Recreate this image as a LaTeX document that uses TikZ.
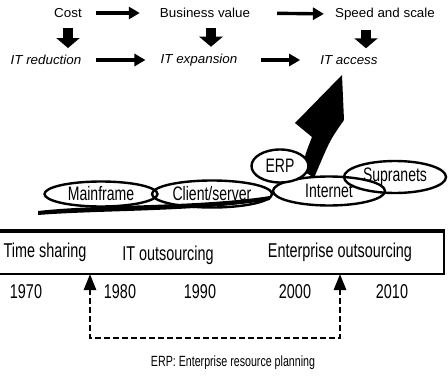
\documentclass[tikz,border=0pt]{standalone}
\usepackage{fontspec}
\setmainfont{Liberation Sans}
\newfontfamily\topfont[FakeStretch=1.03]{Liberation Sans}
\newfontfamily\condfont[FakeStretch=0.72]{Liberation Sans}
\usetikzlibrary{arrows.meta,shapes.geometric}
\begin{document}
\begin{tikzpicture}[x=1pt,y=-1pt,
  toptxt/.style={font=\topfont\fontsize{13}{15}\selectfont, inner sep=1pt},
  ittxt/.style={font=\topfont\itshape\fontsize{13}{15}\selectfont, inner sep=1pt},
  thinarr/.style={line width=3.4pt, -{Triangle[length=11pt,width=12pt]}},
  blkarr/.style={line width=10pt, -{Triangle[length=10pt,width=23pt]}},
  ell/.style={ellipse, draw, line width=2.4pt, inner sep=0pt, font=\condfont\fontsize{19.5}{21}\selectfont},
  bigtxt/.style={font=\condfont\fontsize{20}{22}\selectfont, inner sep=1pt},
  yeartxt/.style={font=\condfont\fontsize{20}{22}\selectfont, inner sep=1pt},
  notetxt/.style={font=\condfont\fontsize{14.8}{16}\selectfont, inner sep=1pt},
  dasharr/.style={line width=2.6pt, dash pattern=on 6pt off 3pt,
    {Triangle[length=16pt,width=12pt]}-{Triangle[length=16pt,width=12pt]}},
]
\useasboundingbox (0,0) rectangle (448,380);
\clip (0,0) rectangle (448,380);
\fill[white] (0,0) rectangle (448,380);

% top rows
\node[toptxt] (cost) at (68,13) {Cost};
\node[toptxt] (bv) at (205,13) {Business value};
\node[toptxt] (ss) at (385,14) {Speed and scale};
\node[ittxt] (itr) at (46,60) {IT reduction};
\node[ittxt] (ite) at (199,60) {IT expansion};
\node[ittxt] (ita) at (349,60) {IT access};

\draw[thinarr, shorten <=13pt, shorten >=19pt] (cost.east) -- (bv.west);
\draw[thinarr, shorten <=26pt, shorten >=10pt] (bv.east) -- (ss.west);
\draw[thinarr, shorten <=13pt, shorten >=14pt] (itr.east) -- (ite.west);
\draw[thinarr, shorten <=22pt, shorten >=19pt] (ite.east) -- (ita.west);

\draw[blkarr, shorten <=9pt, shorten >=6pt] (cost.south) -- (cost.south |- itr.north);
\draw[blkarr, shorten <=9pt, shorten >=6pt] ([xshift=6pt]bv.south) -- ([xshift=6pt]bv.south |- ite.north);
\draw[blkarr, shorten <=9pt, shorten >=6pt] ([xshift=-19pt]ss.south) -- ([xshift=-19pt]ss.south |- ita.north);

% big arrow
\fill (302,170) .. controls (305,155) .. (312,137) -- (295,123) -- (342,75) -- (344,120) .. controls (330,140) .. (314,178) -- cycle;

% swoosh
\fill (38,211) .. controls (100,204) and (200,207) .. (270,196) -- (270,200) .. controls (200,212) and (100,210) .. (38,215) -- cycle;

% ellipses
\node[ell, minimum width=113pt, minimum height=25pt] (mf) at (101,194) {Mainframe};
\node[ell, minimum width=120pt, minimum height=27pt] (cs) at (212,194) {Client/server};
\node[ell, minimum width=112pt, minimum height=29pt] (inet) at (329,191) {\raisebox{-4pt}{Internet}};
\node[ell, minimum width=102pt, minimum height=32pt] (sup) at (395,177) {Supranets};
\node[ell, fill=white, minimum width=57pt, minimum height=33pt] (erp) at (280,166) {ERP};

% timeline box
\node[draw, line width=2.4pt, minimum width=452pt, minimum height=42pt, anchor=north east] (tl) at (445,231) {};
\draw[line width=3.4pt] (tl.north west) -- (tl.north east);
\node[bigtxt] (ts) at (45,252) {Time sharing};
\node[bigtxt] (ito) at (168,255) {IT outsourcing};
\node[bigtxt] (eo) at (340,252) {Enterprise outsourcing};

\node[yeartxt] (y1) at (26,292) {1970};
\node[yeartxt] (y2) at (120,292) {1980};
\node[yeartxt] (y3) at (200,292) {1990};
\node[yeartxt] (y4) at (295,292) {2000};
\node[yeartxt] (y5) at (392,292) {2010};

\coordinate (a1) at (90,274);
\coordinate (a2) at (340,274);
\coordinate (dl) at (90,338);
\draw[dasharr] (a1) -- (dl) -| (a2);

\node[notetxt] (note) at (233,363) {ERP: Enterprise resource planning};
\end{tikzpicture}
\end{document}
